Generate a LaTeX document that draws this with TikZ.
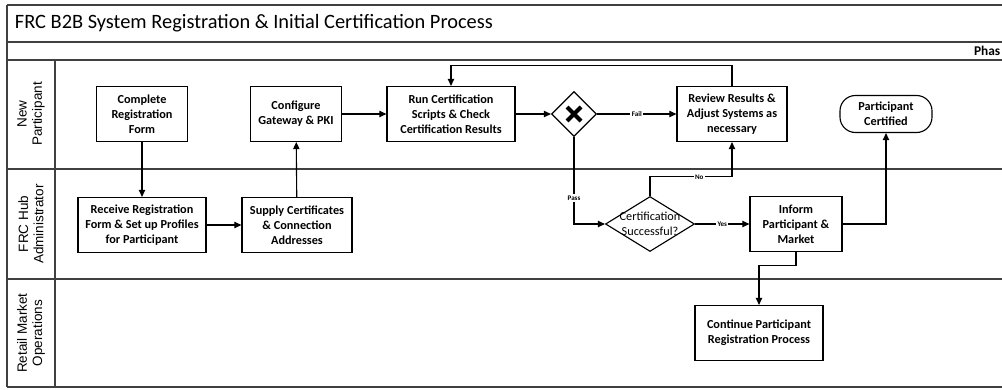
\documentclass[tikz,border=0pt]{standalone}
\usepackage{fontspec}
\setmainfont{Carlito}
\newfontfamily\lanefont{Liberation Sans}
\usetikzlibrary{arrows.meta, shapes.geometric, positioning}

\begin{document}
\begin{tikzpicture}[x=0.025cm, y=-0.025cm,
    task/.style={draw, line width=0.8pt, rectangle, align=center, inner sep=0pt,
      minimum height=1.375cm, font=\fontsize{8.7}{10.6}\selectfont\bfseries},
    lane/.style={rotate=90, align=center, font=\lanefont\fontsize{9.6}{10.8}\selectfont},
    frame/.style={line width=1pt, draw=black!75},
    flow/.style={line width=0.8pt, -{Triangle[length=5pt,width=4.5pt]}},
    tag/.style={fill=white, inner sep=1pt, font=\fontsize{5}{6}\selectfont\bfseries}]
  \useasboundingbox (0,0) rectangle (1002,389);

  \draw[frame] (7,5) -- (1002,5);
  \draw[frame] (7,42) -- (1002,42);
  \draw[frame] (7,60) -- (1002,60);
  \draw[frame] (7,169) -- (1002,169);
  \draw[frame] (7,279) -- (1002,279);
  \draw[frame] (7,387) -- (1002,387);
  \draw[frame] (7,5) -- (7,387);
  \draw[frame] (55,60) -- (55,387);

  \node[anchor=west, font=\fontsize{14.5}{17}\selectfont] at (10,23) (title) {FRC B2B System Registration \& Initial Certification Process};
  \node[anchor=east, inner sep=1pt, font=\fontsize{9.5}{11}\selectfont\bfseries] at (1002,51) (phase) {Phas};

  \node[lane] at (31,114) (newp) {New\\Participant};
  \node[lane] at (31,224) (hub) {FRC Hub\\Administrator};
  \node[lane] at (31,333) (retail) {Retail Market\\Operations};

  \node[task, minimum width=2.275cm] at (142,114) (complete) {Complete\\Registration\\Form};
  \node[task, minimum width=2.275cm] at (296,114) (configure) {Configure\\Gateway \& PKI};
  \node[task, minimum width=3.2cm] at (142,225) (receive) {Receive Registration\\Form \& Set up Profiles\\for Participant};
  \node[task, minimum width=2.75cm] at (297,225) (supply) {Supply Certificates\\\& Connection\\Addresses};
  \node[task, minimum width=3.2cm] at (451,114) (run) {Run Certification\\Scripts \& Check\\Certification Results};
  \node[diamond, draw, line width=0.8pt, inner sep=0pt, minimum width=1.125cm, minimum height=1.125cm] at (574,114) (gw) {};
  \draw[line width=3pt] ([shift={(-7,-7)}]gw.center) -- ([shift={(7,7)}]gw.center);
  \draw[line width=3pt] ([shift={(-7,7)}]gw.center) -- ([shift={(7,-7)}]gw.center);
  \node[task, minimum width=2.75cm] at (732,114) (review) {Review Results \&\\Adjust Systems as\\necessary};
  \node[draw, line width=0.8pt, rounded corners=11pt, minimum width=2.3cm, minimum height=0.925cm, align=center,
    font=\fontsize{8.7}{10.6}\selectfont\bfseries] at (886,114) (cert) {Participant\\Certified};
  \node[diamond, draw, line width=0.8pt, inner sep=0pt, minimum width=2.225cm, minimum height=1.375cm,
    label={[align=center, font=\fontsize{8.7}{10.6}\selectfont]center:Certification\\Successful?}] at (650,224) (check) {};
  \node[task, minimum width=2.3cm] at (796,224) (inform) {Inform\\Participant \&\\Market};
  \node[task, minimum width=3.2cm] at (759,333) (continue) {Continue Participant\\Registration Process};

  \draw[flow] (complete) -- (receive);
  \draw[flow] (receive) -- (supply);
  \draw[flow] (supply) -- (configure);
  \draw[flow] (configure) -- (run);
  \draw[flow] (run) -- (gw);
  \draw[flow] (gw) -- node[tag] {Fail} (review);
  \draw[flow] (gw.south) |- node[tag, pos=0.35] {Pass} (check.west);
  \draw[flow] (check.north) -- ++(0,-19) -| node[tag, pos=0.3] {No} (review.south);
  \draw[flow] (check) -- node[tag] {Yes} (inform);
  \draw[flow] (inform.east) -| (cert.south);
  \draw[flow] (inform.south) -- ++(0,13) -| (continue.north);
  \draw[flow] (review.north) -- ++(0,-20) -| (run.north);
\end{tikzpicture}
\end{document}
